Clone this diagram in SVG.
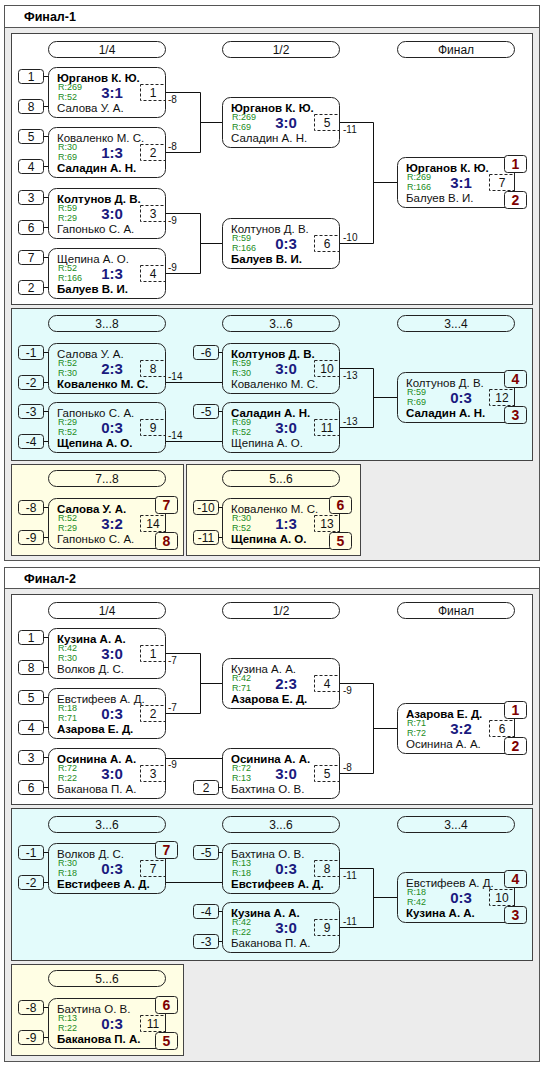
<svg xmlns="http://www.w3.org/2000/svg" width="554" height="1067" viewBox="0 0 554 1067">
<style>
text{font-family:"Liberation Sans",Arial,sans-serif}
.outer{fill:#ececec;stroke:#555}
.hdr{fill:#fff;stroke:#555}
.pw{fill:#fff;stroke:#444}
.pc{fill:#e3fbfb;stroke:#444}
.py{fill:#fffee4;stroke:#444}
.pill,.box,.seed{fill:none;stroke:#222}
.place{fill:#fff;stroke:#222}
.place.c{fill:#e3fbfb}
.place.y{fill:#fffee4}
.num{fill:none;stroke:#222;stroke-dasharray:3,2}
.ln{fill:none;stroke:#111}
.title{font-size:12.5px;font-weight:bold;fill:#000}
.t{font-size:12px;fill:#111;text-anchor:middle}
.nm{font-size:11.5px;fill:#111}
.nb{font-size:11.5px;font-weight:bold;fill:#000}
.r{font-size:9px;fill:#228b22}
.sc{font-size:15px;font-weight:bold;fill:#1a1a7e;text-anchor:middle}
.pl{font-size:14px;font-weight:bold;fill:#800000;text-anchor:middle}
.lb{font-size:10px;fill:#111}
</style>
<rect width="554" height="1067" fill="#fff"/>
<g id="final1-frame">
<rect class="outer" x="4.5" y="5.5" width="535" height="555"/>
<rect class="hdr" x="4.5" y="5.5" width="535" height="22"/>
<text class="title" x="24" y="21">Финал-1</text>
<rect class="pw" x="11.5" y="33.5" width="521" height="271"/>
<rect class="pc" x="11.5" y="308.5" width="521" height="152"/>
<rect class="py" x="11.5" y="464.5" width="172" height="91"/>
<rect class="py" x="186.5" y="464.5" width="174" height="91"/>
</g>
<g id="final1-headers">
<rect class="pill" x="48.5" y="41.5" width="117" height="16" rx="8"/><text class="t" x="107" y="53.5">1/4</text>
<rect class="pill" x="222.5" y="41.5" width="117" height="16" rx="8"/><text class="t" x="281" y="53.5">1/2</text>
<rect class="pill" x="397.5" y="41.5" width="117" height="16" rx="8"/><text class="t" x="456" y="53.5">Финал</text>
<rect class="pill" x="48.5" y="315.5" width="117" height="16" rx="8"/><text class="t" x="107" y="327.5">3...8</text>
<rect class="pill" x="222.5" y="315.5" width="117" height="16" rx="8"/><text class="t" x="281" y="327.5">3...6</text>
<rect class="pill" x="397.5" y="315.5" width="117" height="16" rx="8"/><text class="t" x="456" y="327.5">3...4</text>
<rect class="pill" x="48.5" y="470.5" width="117" height="16" rx="8"/><text class="t" x="107" y="482.5">7...8</text>
<rect class="pill" x="222.5" y="470.5" width="117" height="16" rx="8"/><text class="t" x="281" y="482.5">5...6</text>
</g>
<g id="final2-frame">
<rect class="outer" x="4.5" y="567.5" width="535" height="494"/>
<rect class="hdr" x="4.5" y="567.5" width="535" height="21"/>
<text class="title" x="24" y="583">Финал-2</text>
<rect class="pw" x="11.5" y="594.5" width="521" height="210"/>
<rect class="pc" x="11.5" y="808.5" width="521" height="152"/>
<rect class="py" x="11.5" y="964.5" width="172" height="91"/>
</g>
<g id="final2-headers">
<rect class="pill" x="48.5" y="602.5" width="117" height="16" rx="8"/><text class="t" x="107" y="614.5">1/4</text>
<rect class="pill" x="222.5" y="602.5" width="117" height="16" rx="8"/><text class="t" x="281" y="614.5">1/2</text>
<rect class="pill" x="397.5" y="602.5" width="117" height="16" rx="8"/><text class="t" x="456" y="614.5">Финал</text>
<rect class="pill" x="48.5" y="816.5" width="117" height="16" rx="8"/><text class="t" x="107" y="828.5">3...6</text>
<rect class="pill" x="222.5" y="816.5" width="117" height="16" rx="8"/><text class="t" x="281" y="828.5">3...6</text>
<rect class="pill" x="397.5" y="816.5" width="117" height="16" rx="8"/><text class="t" x="456" y="828.5">3...4</text>
<rect class="pill" x="48.5" y="970.5" width="117" height="16" rx="8"/><text class="t" x="107" y="982.5">5...6</text>
</g>

<g id="connectors" class="ln">
<path d="M165 92.5H200.5V152.5H165M200.5 122.5H222"/>
<path d="M165 213.5H200.5V273.5H165M200.5 243.5H222"/>
<path d="M339 122.5H373.5V243.5H339M373.5 182.5H397"/>
<path d="M165 382.5H222M165 441.5H222"/>
<path d="M339 368.5H373.5V427.5H339M373.5 397.5H397"/>
<path d="M514.5 172V192M514.5 387V406M165.5 513V532M339.5 513V532"/>
<path d="M165 653.5H200.5V713.5H165M200.5 683.5H222"/>
<path d="M165 758.5H222"/>
<path d="M339 683.5H373.5V773.5H339M373.5 728.5H397"/>
<path d="M514.5 718V737M514.5 887V906M165.5 1013V1032"/>
<path d="M165 882.5H222"/>
<path d="M339 868.5H373.5V927.5H339M373.5 897.5H397"/>
<path d="M43.5 76.5H48.5M43.5 106.5H48.5M43.5 136.5H48.5M43.5 166.5H48.5M43.5 197.5H48.5M43.5 227.5H48.5M43.5 257.5H48.5M43.5 287.5H48.5M43.5 352.5H48.5M43.5 382.5H48.5M43.5 411.5H48.5M43.5 441.5H48.5M218.5 352.5H222.5M218.5 411.5H222.5M43.5 507.5H48.5M43.5 537.5H48.5M218.5 507.5H222.5M218.5 537.5H222.5"/>
<path d="M43.5 637.5H48.5M43.5 667.5H48.5M43.5 697.5H48.5M43.5 727.5H48.5M43.5 757.5H48.5M43.5 787.5H48.5M218.5 787.5H222.5M43.5 852.5H48.5M43.5 882.5H48.5M218.5 852.5H222.5M218.5 911.5H222.5M218.5 941.5H222.5M43.5 1007.5H48.5M43.5 1037.5H48.5"/>
</g>
<g id="connector-labels">
<text class="lb" x="168" y="102.5">-8</text>
<text class="lb" x="168" y="149.5">-8</text>
<text class="lb" x="168" y="223.5">-9</text>
<text class="lb" x="168" y="270.5">-9</text>
<text class="lb" x="343" y="132.5">-11</text>
<text class="lb" x="343" y="240.5">-10</text>
<text class="lb" x="168" y="379.5">-14</text>
<text class="lb" x="168" y="438.5">-14</text>
<text class="lb" x="343" y="378.5">-13</text>
<text class="lb" x="343" y="424.5">-13</text>
<text class="lb" x="168" y="663.5">-7</text>
<text class="lb" x="168" y="710.5">-7</text>
<text class="lb" x="168" y="768">-9</text>
<text class="lb" x="343" y="693.5">-9</text>
<text class="lb" x="343" y="770.5">-8</text>
<text class="lb" x="343" y="878.5">-11</text>
<text class="lb" x="343" y="924.5">-11</text>
</g>

<g id="f1-m1">
<rect class="seed" x="18.5" y="69.5" width="25" height="14" rx="3"/><text class="t" x="31" y="81">1</text>
<rect class="seed" x="18.5" y="99.5" width="25" height="14" rx="3"/><text class="t" x="31" y="111">8</text>
<rect class="box" x="48.5" y="67.5" width="117" height="50" rx="8"/>
<text class="nb" x="57" y="82">Юрганов К. Ю.</text>
<text class="r" x="58" y="90">R:269</text><text class="r" x="58" y="100">R:52</text>
<text class="nm" x="57" y="112">Салова У. А.</text>
<text class="sc" x="112" y="98">3:1</text>
<rect class="num" x="140.5" y="84.5" width="25" height="16"/><text class="t" x="153" y="97">1</text>
</g>
<g id="f1-m2">
<rect class="seed" x="18.5" y="129.5" width="25" height="14" rx="3"/><text class="t" x="31" y="141">5</text>
<rect class="seed" x="18.5" y="159.5" width="25" height="14" rx="3"/><text class="t" x="31" y="171">4</text>
<rect class="box" x="48.5" y="127.5" width="117" height="50" rx="8"/>
<text class="nm" x="57" y="142">Коваленко М. С.</text>
<text class="r" x="58" y="150">R:30</text><text class="r" x="58" y="160">R:69</text>
<text class="nb" x="57" y="172">Саладин А. Н.</text>
<text class="sc" x="112" y="158">1:3</text>
<rect class="num" x="140.5" y="144.5" width="25" height="16"/><text class="t" x="153" y="157">2</text>
</g>
<g id="f1-m3">
<rect class="seed" x="18.5" y="190.5" width="25" height="14" rx="3"/><text class="t" x="31" y="202">3</text>
<rect class="seed" x="18.5" y="220.5" width="25" height="14" rx="3"/><text class="t" x="31" y="232">6</text>
<rect class="box" x="48.5" y="188.5" width="117" height="50" rx="8"/>
<text class="nb" x="57" y="203">Колтунов Д. В.</text>
<text class="r" x="58" y="211">R:59</text><text class="r" x="58" y="221">R:29</text>
<text class="nm" x="57" y="233">Гапонько С. А.</text>
<text class="sc" x="112" y="219">3:0</text>
<rect class="num" x="140.5" y="205.5" width="25" height="16"/><text class="t" x="153" y="218">3</text>
</g>
<g id="f1-m4">
<rect class="seed" x="18.5" y="250.5" width="25" height="14" rx="3"/><text class="t" x="31" y="262">7</text>
<rect class="seed" x="18.5" y="280.5" width="25" height="14" rx="3"/><text class="t" x="31" y="292">2</text>
<rect class="box" x="48.5" y="248.5" width="117" height="50" rx="8"/>
<text class="nm" x="57" y="263">Щепина А. О.</text>
<text class="r" x="58" y="271">R:52</text><text class="r" x="58" y="281">R:166</text>
<text class="nb" x="57" y="293">Балуев В. И.</text>
<text class="sc" x="112" y="279">1:3</text>
<rect class="num" x="140.5" y="265.5" width="25" height="16"/><text class="t" x="153" y="278">4</text>
</g>
<g id="f1-m5">
<rect class="box" x="222.5" y="97.5" width="117" height="50" rx="8"/>
<text class="nb" x="231" y="112">Юрганов К. Ю.</text>
<text class="r" x="232" y="120">R:269</text><text class="r" x="232" y="130">R:69</text>
<text class="nm" x="231" y="142">Саладин А. Н.</text>
<text class="sc" x="286" y="128">3:0</text>
<rect class="num" x="314.5" y="114.5" width="25" height="16"/><text class="t" x="327" y="127">5</text>
</g>
<g id="f1-m6">
<rect class="box" x="222.5" y="218.5" width="117" height="50" rx="8"/>
<text class="nm" x="231" y="233">Колтунов Д. В.</text>
<text class="r" x="232" y="241">R:59</text><text class="r" x="232" y="251">R:166</text>
<text class="nb" x="231" y="263">Балуев В. И.</text>
<text class="sc" x="286" y="249">0:3</text>
<rect class="num" x="314.5" y="235.5" width="25" height="16"/><text class="t" x="327" y="248">6</text>
</g>
<g id="f1-m7">
<rect class="box" x="397.5" y="157.5" width="117" height="50" rx="8"/>
<text class="nb" x="406" y="172">Юрганов К. Ю.</text>
<text class="r" x="407" y="180">R:269</text><text class="r" x="407" y="190">R:166</text>
<text class="nm" x="406" y="202">Балуев В. И.</text>
<text class="sc" x="461" y="188">3:1</text>
<rect class="num" x="489.5" y="174.5" width="25" height="16"/><text class="t" x="502" y="187">7</text>
<rect class="place" x="504.5" y="155.5" width="22" height="17" rx="3"/><text class="pl" x="515.5" y="169">1</text>
<rect class="place" x="504.5" y="191.5" width="22" height="17" rx="3"/><text class="pl" x="515.5" y="205">2</text>
</g>
<g id="f1-m8">
<rect class="seed" x="18.5" y="345.5" width="25" height="14" rx="3"/><text class="t" x="31" y="357">-1</text>
<rect class="seed" x="18.5" y="375.5" width="25" height="14" rx="3"/><text class="t" x="31" y="387">-2</text>
<rect class="box" x="48.5" y="343.5" width="117" height="50" rx="8"/>
<text class="nm" x="57" y="358">Салова У. А.</text>
<text class="r" x="58" y="366">R:52</text><text class="r" x="58" y="376">R:30</text>
<text class="nb" x="57" y="388">Коваленко М. С.</text>
<text class="sc" x="112" y="374">2:3</text>
<rect class="num" x="140.5" y="360.5" width="25" height="16"/><text class="t" x="153" y="373">8</text>
</g>
<g id="f1-m9">
<rect class="seed" x="18.5" y="404.5" width="25" height="14" rx="3"/><text class="t" x="31" y="416">-3</text>
<rect class="seed" x="18.5" y="434.5" width="25" height="14" rx="3"/><text class="t" x="31" y="446">-4</text>
<rect class="box" x="48.5" y="402.5" width="117" height="50" rx="8"/>
<text class="nm" x="57" y="417">Гапонько С. А.</text>
<text class="r" x="58" y="425">R:29</text><text class="r" x="58" y="435">R:52</text>
<text class="nb" x="57" y="447">Щепина А. О.</text>
<text class="sc" x="112" y="433">0:3</text>
<rect class="num" x="140.5" y="419.5" width="25" height="16"/><text class="t" x="153" y="432">9</text>
</g>
<g id="f1-m10">
<rect class="seed" x="193.5" y="345.5" width="25" height="14" rx="3"/><text class="t" x="206" y="357">-6</text>
<rect class="box" x="222.5" y="343.5" width="117" height="50" rx="8"/>
<text class="nb" x="231" y="358">Колтунов Д. В.</text>
<text class="r" x="232" y="366">R:59</text><text class="r" x="232" y="376">R:30</text>
<text class="nm" x="231" y="388">Коваленко М. С.</text>
<text class="sc" x="286" y="374">3:0</text>
<rect class="num" x="314.5" y="360.5" width="25" height="16"/><text class="t" x="327" y="373">10</text>
</g>
<g id="f1-m11">
<rect class="seed" x="193.5" y="404.5" width="25" height="14" rx="3"/><text class="t" x="206" y="416">-5</text>
<rect class="box" x="222.5" y="402.5" width="117" height="50" rx="8"/>
<text class="nb" x="231" y="417">Саладин А. Н.</text>
<text class="r" x="232" y="425">R:69</text><text class="r" x="232" y="435">R:52</text>
<text class="nm" x="231" y="447">Щепина А. О.</text>
<text class="sc" x="286" y="433">3:0</text>
<rect class="num" x="314.5" y="419.5" width="25" height="16"/><text class="t" x="327" y="432">11</text>
</g>
<g id="f1-m12">
<rect class="box" x="397.5" y="372.5" width="117" height="50" rx="8"/>
<text class="nm" x="406" y="387">Колтунов Д. В.</text>
<text class="r" x="407" y="395">R:59</text><text class="r" x="407" y="405">R:69</text>
<text class="nb" x="406" y="417">Саладин А. Н.</text>
<text class="sc" x="461" y="403">0:3</text>
<rect class="num" x="489.5" y="389.5" width="25" height="16"/><text class="t" x="502" y="402">12</text>
<rect class="place c" x="504.5" y="370.5" width="22" height="17" rx="3"/><text class="pl" x="515.5" y="384">4</text>
<rect class="place c" x="504.5" y="406.5" width="22" height="17" rx="3"/><text class="pl" x="515.5" y="420">3</text>
</g>
<g id="f1-m14">
<rect class="seed" x="18.5" y="500.5" width="25" height="14" rx="3"/><text class="t" x="31" y="512">-8</text>
<rect class="seed" x="18.5" y="530.5" width="25" height="14" rx="3"/><text class="t" x="31" y="542">-9</text>
<rect class="box" x="48.5" y="498.5" width="117" height="50" rx="8"/>
<text class="nb" x="57" y="513">Салова У. А.</text>
<text class="r" x="58" y="521">R:52</text><text class="r" x="58" y="531">R:29</text>
<text class="nm" x="57" y="543">Гапонько С. А.</text>
<text class="sc" x="112" y="529">3:2</text>
<rect class="num" x="140.5" y="515.5" width="25" height="16"/><text class="t" x="153" y="528">14</text>
<rect class="place y" x="155.5" y="496.5" width="22" height="17" rx="3"/><text class="pl" x="166.5" y="510">7</text>
<rect class="place y" x="155.5" y="532.5" width="22" height="17" rx="3"/><text class="pl" x="166.5" y="546">8</text>
</g>
<g id="f1-m13">
<rect class="seed" x="193.5" y="500.5" width="25" height="14" rx="3"/><text class="t" x="206" y="512">-10</text>
<rect class="seed" x="193.5" y="530.5" width="25" height="14" rx="3"/><text class="t" x="206" y="542">-11</text>
<rect class="box" x="222.5" y="498.5" width="117" height="50" rx="8"/>
<text class="nm" x="231" y="513">Коваленко М. С.</text>
<text class="r" x="232" y="521">R:30</text><text class="r" x="232" y="531">R:52</text>
<text class="nb" x="231" y="543">Щепина А. О.</text>
<text class="sc" x="286" y="529">1:3</text>
<rect class="num" x="314.5" y="515.5" width="25" height="16"/><text class="t" x="327" y="528">13</text>
<rect class="place y" x="329.5" y="496.5" width="22" height="17" rx="3"/><text class="pl" x="340.5" y="510">6</text>
<rect class="place y" x="329.5" y="532.5" width="22" height="17" rx="3"/><text class="pl" x="340.5" y="546">5</text>
</g>

<g id="f2-m1">
<rect class="seed" x="18.5" y="630.5" width="25" height="14" rx="3"/><text class="t" x="31" y="642">1</text>
<rect class="seed" x="18.5" y="660.5" width="25" height="14" rx="3"/><text class="t" x="31" y="672">8</text>
<rect class="box" x="48.5" y="628.5" width="117" height="50" rx="8"/>
<text class="nb" x="57" y="643">Кузина А. А.</text>
<text class="r" x="58" y="651">R:42</text><text class="r" x="58" y="661">R:30</text>
<text class="nm" x="57" y="673">Волков Д. С.</text>
<text class="sc" x="112" y="659">3:0</text>
<rect class="num" x="140.5" y="645.5" width="25" height="16"/><text class="t" x="153" y="658">1</text>
</g>
<g id="f2-m2">
<rect class="seed" x="18.5" y="690.5" width="25" height="14" rx="3"/><text class="t" x="31" y="702">5</text>
<rect class="seed" x="18.5" y="720.5" width="25" height="14" rx="3"/><text class="t" x="31" y="732">4</text>
<rect class="box" x="48.5" y="688.5" width="117" height="50" rx="8"/>
<text class="nm" x="57" y="703">Евстифеев А. Д.</text>
<text class="r" x="58" y="711">R:18</text><text class="r" x="58" y="721">R:71</text>
<text class="nb" x="57" y="733">Азарова Е. Д.</text>
<text class="sc" x="112" y="719">0:3</text>
<rect class="num" x="140.5" y="705.5" width="25" height="16"/><text class="t" x="153" y="718">2</text>
</g>
<g id="f2-m3">
<rect class="seed" x="18.5" y="750.5" width="25" height="14" rx="3"/><text class="t" x="31" y="762">3</text>
<rect class="seed" x="18.5" y="780.5" width="25" height="14" rx="3"/><text class="t" x="31" y="792">6</text>
<rect class="box" x="48.5" y="748.5" width="117" height="50" rx="8"/>
<text class="nb" x="57" y="763">Осинина А. А.</text>
<text class="r" x="58" y="771">R:72</text><text class="r" x="58" y="781">R:22</text>
<text class="nm" x="57" y="793">Баканова П. А.</text>
<text class="sc" x="112" y="779">3:0</text>
<rect class="num" x="140.5" y="765.5" width="25" height="16"/><text class="t" x="153" y="778">3</text>
</g>
<g id="f2-m4">
<rect class="box" x="222.5" y="658.5" width="117" height="50" rx="8"/>
<text class="nm" x="231" y="673">Кузина А. А.</text>
<text class="r" x="232" y="681">R:42</text><text class="r" x="232" y="691">R:71</text>
<text class="nb" x="231" y="703">Азарова Е. Д.</text>
<text class="sc" x="286" y="689">2:3</text>
<rect class="num" x="314.5" y="675.5" width="25" height="16"/><text class="t" x="327" y="688">4</text>
</g>
<g id="f2-m5">
<rect class="seed" x="193.5" y="780.5" width="25" height="14" rx="3"/><text class="t" x="206" y="792">2</text>
<rect class="box" x="222.5" y="748.5" width="117" height="50" rx="8"/>
<text class="nb" x="231" y="763">Осинина А. А.</text>
<text class="r" x="232" y="771">R:72</text><text class="r" x="232" y="781">R:13</text>
<text class="nm" x="231" y="793">Бахтина О. В.</text>
<text class="sc" x="286" y="779">3:0</text>
<rect class="num" x="314.5" y="765.5" width="25" height="16"/><text class="t" x="327" y="778">5</text>
</g>
<g id="f2-m6">
<rect class="box" x="397.5" y="703.5" width="117" height="50" rx="8"/>
<text class="nb" x="406" y="718">Азарова Е. Д.</text>
<text class="r" x="407" y="726">R:71</text><text class="r" x="407" y="736">R:72</text>
<text class="nm" x="406" y="748">Осинина А. А.</text>
<text class="sc" x="461" y="734">3:2</text>
<rect class="num" x="489.5" y="720.5" width="25" height="16"/><text class="t" x="502" y="733">6</text>
<rect class="place" x="504.5" y="701.5" width="22" height="17" rx="3"/><text class="pl" x="515.5" y="715">1</text>
<rect class="place" x="504.5" y="737.5" width="22" height="17" rx="3"/><text class="pl" x="515.5" y="751">2</text>
</g>
<g id="f2-m7">
<rect class="seed" x="18.5" y="845.5" width="25" height="14" rx="3"/><text class="t" x="31" y="857">-1</text>
<rect class="seed" x="18.5" y="875.5" width="25" height="14" rx="3"/><text class="t" x="31" y="887">-2</text>
<rect class="box" x="48.5" y="843.5" width="117" height="50" rx="8"/>
<text class="nm" x="57" y="858">Волков Д. С.</text>
<text class="r" x="58" y="866">R:30</text><text class="r" x="58" y="876">R:18</text>
<text class="nb" x="57" y="888">Евстифеев А. Д.</text>
<text class="sc" x="112" y="874">0:3</text>
<rect class="num" x="140.5" y="860.5" width="25" height="16"/><text class="t" x="153" y="873">7</text>
<rect class="place c" x="155.5" y="841.5" width="22" height="17" rx="3"/><text class="pl" x="166.5" y="855">7</text>
</g>
<g id="f2-m8">
<rect class="seed" x="193.5" y="845.5" width="25" height="14" rx="3"/><text class="t" x="206" y="857">-5</text>
<rect class="box" x="222.5" y="843.5" width="117" height="50" rx="8"/>
<text class="nm" x="231" y="858">Бахтина О. В.</text>
<text class="r" x="232" y="866">R:13</text><text class="r" x="232" y="876">R:18</text>
<text class="nb" x="231" y="888">Евстифеев А. Д.</text>
<text class="sc" x="286" y="874">0:3</text>
<rect class="num" x="314.5" y="860.5" width="25" height="16"/><text class="t" x="327" y="873">8</text>
</g>
<g id="f2-m9">
<rect class="seed" x="193.5" y="904.5" width="25" height="14" rx="3"/><text class="t" x="206" y="916">-4</text>
<rect class="seed" x="193.5" y="934.5" width="25" height="14" rx="3"/><text class="t" x="206" y="946">-3</text>
<rect class="box" x="222.5" y="902.5" width="117" height="50" rx="8"/>
<text class="nb" x="231" y="917">Кузина А. А.</text>
<text class="r" x="232" y="925">R:42</text><text class="r" x="232" y="935">R:22</text>
<text class="nm" x="231" y="947">Баканова П. А.</text>
<text class="sc" x="286" y="933">3:0</text>
<rect class="num" x="314.5" y="919.5" width="25" height="16"/><text class="t" x="327" y="932">9</text>
</g>
<g id="f2-m10">
<rect class="box" x="397.5" y="872.5" width="117" height="50" rx="8"/>
<text class="nm" x="406" y="887">Евстифеев А. Д.</text>
<text class="r" x="407" y="895">R:18</text><text class="r" x="407" y="905">R:42</text>
<text class="nb" x="406" y="917">Кузина А. А.</text>
<text class="sc" x="461" y="903">0:3</text>
<rect class="num" x="489.5" y="889.5" width="25" height="16"/><text class="t" x="502" y="902">10</text>
<rect class="place c" x="504.5" y="870.5" width="22" height="17" rx="3"/><text class="pl" x="515.5" y="884">4</text>
<rect class="place c" x="504.5" y="906.5" width="22" height="17" rx="3"/><text class="pl" x="515.5" y="920">3</text>
</g>
<g id="f2-m11">
<rect class="seed" x="18.5" y="1000.5" width="25" height="14" rx="3"/><text class="t" x="31" y="1012">-8</text>
<rect class="seed" x="18.5" y="1030.5" width="25" height="14" rx="3"/><text class="t" x="31" y="1042">-9</text>
<rect class="box" x="48.5" y="998.5" width="117" height="50" rx="8"/>
<text class="nm" x="57" y="1013">Бахтина О. В.</text>
<text class="r" x="58" y="1021">R:13</text><text class="r" x="58" y="1031">R:22</text>
<text class="nb" x="57" y="1043">Баканова П. А.</text>
<text class="sc" x="112" y="1029">0:3</text>
<rect class="num" x="140.5" y="1015.5" width="25" height="16"/><text class="t" x="153" y="1028">11</text>
<rect class="place y" x="155.5" y="996.5" width="22" height="17" rx="3"/><text class="pl" x="166.5" y="1010">6</text>
<rect class="place y" x="155.5" y="1032.5" width="22" height="17" rx="3"/><text class="pl" x="166.5" y="1046">5</text>
</g>
</svg>
